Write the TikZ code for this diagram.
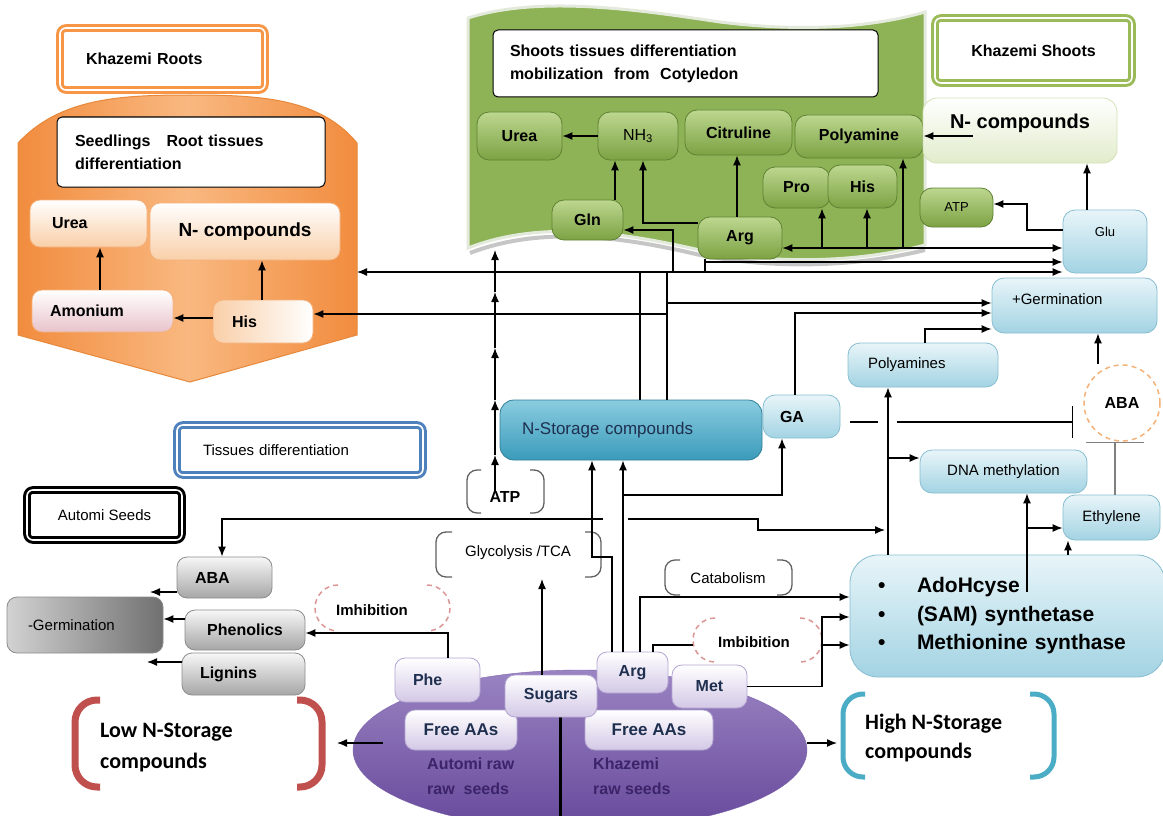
\documentclass[tikz,border=0pt]{standalone}
\usepackage{fontspec}
\setmainfont{Liberation Sans}
\newfontfamily\carl{Carlito}
\usetikzlibrary{arrows.meta,shapes.geometric,calc}
\definecolor{orD}{HTML}{F18C3E}
\definecolor{orL}{HTML}{F9B880}
\definecolor{orB}{HTML}{E8883A}
\definecolor{orK}{HTML}{F79646}
\definecolor{orN}{HTML}{F9CFA8}
\definecolor{orE}{HTML}{F4B07A}
\definecolor{amB}{HTML}{E8C3CB}
\definecolor{grF}{HTML}{8DB356}
\definecolor{grE}{HTML}{E4EADB}
\definecolor{gnT}{HTML}{BDD78F}
\definecolor{gnB}{HTML}{7CA243}
\definecolor{gnD}{HTML}{5F8232}
\definecolor{shG}{HTML}{9BBB59}
\definecolor{snB}{HTML}{E2ECCB}
\definecolor{snD}{HTML}{D3E2B8}
\definecolor{blT}{HTML}{E8F5F9}
\definecolor{blB}{HTML}{A3D3E3}
\definecolor{blD}{HTML}{86BDD0}
\definecolor{tlT}{HTML}{8ACCE0}
\definecolor{tlB}{HTML}{3A9BBA}
\definecolor{tlD}{HTML}{2F7F99}
\definecolor{gyT}{HTML}{F7F7F7}
\definecolor{gyB}{HTML}{A6A6A6}
\definecolor{gyD}{HTML}{8C8C8C}
\definecolor{gyL}{HTML}{D2D2D2}
\definecolor{gyK}{HTML}{707070}
\definecolor{puT}{HTML}{9A84C2}
\definecolor{puB}{HTML}{67489B}
\definecolor{puD}{HTML}{7D66AD}
\definecolor{plB}{HTML}{D3C8E6}
\definecolor{plD}{HTML}{B4A5D2}
\definecolor{redB}{HTML}{C0504D}
\definecolor{tealB}{HTML}{4BACC6}
\definecolor{pinkD}{HTML}{D99694}
\definecolor{orDash}{HTML}{F3B27A}
\definecolor{navy}{HTML}{1F2F4F}
\definecolor{purT}{HTML}{3B2468}
\definecolor{tisB}{HTML}{4F81BD}
\definecolor{brkC}{HTML}{606060}
\tikzset{
  sz/.style 2 args={minimum width=#1pt,minimum height=#2pt},
  box/.style={rounded corners=10pt,inner sep=0pt,align=center,line width=0.8pt},
  fb/.style={font=\fontsize{16}{20}\selectfont\bfseries},
  fr/.style={font=\fontsize{15}{18}\selectfont},
  lft/.style={text width=#1pt,align=left},
  dbl/.style={rounded corners=6pt,inner sep=0pt,fill=white,line width=3pt,double=white,double distance=1.6pt},
  hdr/.style={rounded corners=5pt,inner sep=0pt,fill=white,draw=black,line width=1pt,font=\fontsize{16}{23}\selectfont\bfseries},
  onode/.style={box,fb,shade,top color=white,bottom color=orN,draw=orE},
  gnode/.style={box,fb,rounded corners=12pt,shade,top color=gnT,bottom color=gnB,draw=gnD,text=black},
  bnode/.style={box,fr,rounded corners=12pt,shade,top color=blT,bottom color=blB,draw=blD},
  ynode/.style={box,fb,shade,top color=gyT,bottom color=gyB,draw=gyD},
  pnode/.style={box,fb,shade,top color=white,bottom color=plB,draw=plD,text=navy},
  ln/.style={line width=1.3pt},
  arr/.style={ln,-{Latex[length=10pt,width=8pt]}},
  brk/.style={draw=brkC,line width=1.3pt,rounded corners=10pt},
  dsh/.style={line width=1.5pt,dash pattern=on 5pt off 4pt},
}
\begin{document}
\begin{tikzpicture}[x=1pt,y=-1pt]
\useasboundingbox (0,0) rectangle (1163,816);

% ---------- backgrounds ----------
\path[draw=orB,line width=1pt,left color=orD,right color=orD,middle color=orL]
  (18,143) .. controls (60,98) and (120,95) .. (190,95) .. controls (260,95) and (320,98) .. (357,143)
  -- (357,335) -- (190,382) -- (18,335) -- cycle;
\draw[gray!45,line width=4pt] (470,253) .. controls (540,226) and (620,236) .. (700,255) .. controls (780,270) and (860,266) .. (925,250);
\path[fill=grF,draw=grE,line width=3pt]
  (468,18) .. controls (540,-5) and (640,10) .. (720,22) .. controls (800,32) and (870,28) .. (925,12)
  -- (925,245) .. controls (860,262) and (780,265) .. (700,250) .. controls (620,232) and (540,220) .. (468,248) -- cycle;
\node[ellipse,inner sep=0pt,sz={454}{160},shade,top color=puT,bottom color=puB,draw=puD] (seeds) at (580,750) {};
\draw[line width=3pt] (560,717) -- (560,816);

% ---------- roots ----------
\node[dbl,draw=orK,sz={205}{62},fb,lft=153] (kroots) at (162.5,59) {Khazemi Roots};
\node[hdr,sz={268}{70},lft=232] (seedl) at (191,152) {Seedlings\quad Root tissues\\differentiation};
\node[onode,sz={117}{47},lft=73] (rurea) at (88.5,223.5) {Urea};
\node[onode,sz={190}{57},font=\fontsize{19}{23}\selectfont\bfseries] (rncomp) at (245,231.5) {N- compounds};
\node[box,fb,shade,top color=white,bottom color=amB,draw=orE,sz={141}{42},lft=105] (amon) at (102.5,311) {Amonium};
\node[box,fb,shade,left color=orN,right color=white,draw=orE,sz={100}{43},lft=62] (rhis) at (263,321.5) {His};

% ---------- shoots ----------
\node[hdr,sz={385}{67},lft=351] (shootsbox) at (685.5,63.5) {Shoots tissues differentiation\\mobilization\ \ from\ \ Cotyledon};
\node[gnode,sz={85}{48}] (gurea) at (519.5,136) {Urea};
\node[gnode,sz={80}{48},font=\fontsize{16}{20}\selectfont] (nh3) at (638,136) {NH\textsubscript{3}};
\node[gnode,sz={107}{45}] (citr) at (738.5,132.5) {Citruline};
\node[gnode,sz={128}{43}] (polya) at (859,136.5) {Polyamine};
\node[gnode,sz={67}{41}] (pro) at (796.5,187.5) {Pro};
\node[gnode,sz={69}{43}] (ghis) at (862.5,186.5) {His};
\node[gnode,sz={73}{39},font=\fontsize{13}{16}\selectfont] (gatp) at (956.5,207.5) {ATP};
\node[gnode,sz={71}{40}] (gln) at (587.5,220) {Gln};
\node[gnode,sz={84}{42}] (garg) at (740,238) {Arg};

\node[dbl,draw=shG,sz={197}{65},fb] (kshoots) at (1033.5,50.5) {Khazemi Shoots};
\node[box,rounded corners=14pt,shade,top color=white,bottom color=snB,draw=snD,sz={194}{65},font=\fontsize{20}{24}\selectfont\bfseries,text depth=18pt] (sncomp) at (1020,130.5) {N- compounds};
\node[bnode,sz={84}{63},font=\fontsize{13}{16}\selectfont,text depth=20pt] (glu) at (1105,241.5) {Glu};
\node[bnode,sz={165}{55},lft=125,text depth=13pt] (germp) at (1074.5,305.5) {+Germination};
\node[bnode,sz={150}{44},lft=110] (polyas) at (923,365) {Polyamines};
\node[circle,draw=orDash,dsh,inner sep=0pt,minimum size=76pt,fb] (abac) at (1122,403) {ABA};
\node[bnode,fb,sz={77}{43},lft=43] (ga) at (801.5,416.5) {GA};
\node[box,rounded corners=14pt,shade,top color=tlT,bottom color=tlB,draw=tlD,sz={262}{60},lft=218,font=\fontsize{17}{20}\selectfont,text=navy] (nstor) at (631,430) {N-Storage compounds};
\node[bnode,sz={167}{43}] (dnam) at (1003.5,471.5) {DNA methylation};
\node[bnode,sz={97}{45}] (ethyl) at (1111.5,517.5) {Ethylene};
\node[bnode,rounded corners=28pt,sz={315}{122},lft=259,font=\fontsize{21}{28.5}\selectfont\bfseries] (sam) at (1007.5,616)
  {\makebox[39pt][l]{\textbullet}AdoHcyse\\\makebox[39pt][l]{\textbullet}(SAM) synthetase\\\makebox[39pt][l]{\textbullet}Methionine synthase};

% ---------- left ----------
\node[dbl,draw=tisB,sz={246}{50},lft=194,fr] (tissues) at (300,450) {Tissues differentiation};
\node[dbl,draw=black,sz={155}{50},fr] (automi) at (104.5,515) {Automi Seeds};
\node[ynode,sz={95}{41},lft=59] (gaba) at (224.5,577.5) {ABA};
\node[ynode,sz={120}{40}] (phen) at (245,630) {Phenolics};
\node[ynode,sz={123}{42},lft=87] (lign) at (243.5,674) {Lignins};
\node[box,fr,shade,left color=gyL,right color=gyK,draw=gyD,sz={156}{56},lft=114] (mgerm) at (85,625) {-Germination};

% ---------- seeds ----------
\node[pnode,sz={112}{40},font=\fontsize{17}{20}\selectfont\bfseries] (faal) at (461,730) {Free AAs};
\node[pnode,sz={128}{40},font=\fontsize{17}{20}\selectfont\bfseries] (faar) at (649,730) {Free AAs};
\node[pnode,sz={92}{42}] (sugars) at (551,696) {Sugars};
\node[pnode,sz={85}{44},lft=49] (phe) at (437.5,680) {Phe};
\node[pnode,sz={71}{41}] (earg) at (632.5,672.5) {Arg};
\node[pnode,sz={75}{43}] (met) at (709.5,686.5) {Met};
\node[anchor=west,inner sep=0pt,align=left,font=\fontsize{16}{25}\selectfont\bfseries,text=purT] (autlbl) at (427,776) {Automi raw\\raw\ \ seeds};
\node[anchor=west,inner sep=0pt,align=left,font=\fontsize{16}{25}\selectfont\bfseries,text=purT] (khlbl) at (593,776) {Khazemi\\raw seeds};

% brackets
\draw[redB,line width=7pt,rounded corners=22pt] (100,700) -- (75,700) -- (75,787) -- (100,787);
\draw[redB,line width=7pt,rounded corners=22pt] (297,700) -- (322,700) -- (322,787) -- (297,787);
\node[anchor=west,inner sep=0pt,align=left,font=\carl\fontsize{22}{31}\selectfont\bfseries] (lowt) at (100,748) {Low N-Storage\\compounds};
\draw[tealB,line width=5pt,rounded corners=20pt] (865,694) -- (843,694) -- (843,777) -- (865,777);
\draw[tealB,line width=5pt,rounded corners=20pt] (1030,694) -- (1054,694) -- (1054,777) -- (1030,777);
\node[anchor=west,inner sep=0pt,align=left,font=\carl\fontsize{22}{29}\selectfont\bfseries] (hight) at (865,738) {High N-Storage\\compounds};

\draw[brk] (481,470) -- (467,470) -- (467,513) -- (481,513);
\draw[brk] (530,470) -- (544,470) -- (544,513) -- (530,513);
\node[fb,inner sep=0pt] (atpt) at (505,497) {ATP};
\draw[brk] (452,532) -- (436,532) -- (436,577) -- (452,577);
\draw[brk] (585,532) -- (601,532) -- (601,577) -- (585,577);
\node[fr,inner sep=0pt] (glyt) at (518,553) {Glycolysis /TCA};
\draw[brk] (680,560) -- (665,560) -- (665,595) -- (680,595);
\draw[brk] (777,560) -- (792,560) -- (792,595) -- (777,595);
\node[fr,inner sep=0pt] (catt) at (728,578) {Catabolism};

\draw[pinkD,dsh] (338,585) arc[start angle=270,end angle=90,radius=23];
\draw[pinkD,dsh] (427,585) arc[start angle=270,end angle=450,radius=23];
\node[inner sep=0pt,font=\fontsize{15}{18}\selectfont\bfseries] (imht) at (372,610) {Imhibition};
\draw[pinkD,dsh] (715,618) arc[start angle=270,end angle=90,radius=22];
\draw[pinkD,dsh] (800,618) arc[start angle=270,end angle=450,radius=22];
\node[inner sep=0pt,font=\fontsize{15}{18}\selectfont\bfseries] (imbt) at (754,642) {Imbibition};

% ---------- coordinates ----------
\coordinate (rootR) at (357,272);
\coordinate (j640) at (640,272);
\coordinate (j667t) at (667,272);
\coordinate (j667a) at (667,303);
\coordinate (j667b) at (667,314);
\coordinate (jGln) at (673,272);
\coordinate (jArg) at (705,262);
\coordinate (jP) at (822,248);
\coordinate (jH) at (867,248);
\coordinate (jY) at (903,248);
\coordinate (gaA) at (850,422);
\coordinate (gaB) at (878,422);
\coordinate (gaC) at (897,422);
\coordinate (abaBar) at (1073,422);
\coordinate (jDNA) at (888,458);
\coordinate (samA) at (1027,592);
\coordinate (jEth) at (1027,528);
\coordinate (jMet) at (822,645);
\coordinate (imbL) at (693,645);
\coordinate (jGA) at (623,495);
\coordinate (glyB) at (542,579);
\coordinate (h1) at (603,519);
\coordinate (h2) at (628,519);
\coordinate (h3) at (885,530);
\coordinate (mg1) at (150,592);
\coordinate (mg3) at (147,662);
\coordinate (a1) at (495,455);
\coordinate (a2) at (495,400);
\coordinate (a3) at (495,348);
\coordinate (a4) at (495,292);
\coordinate (gB) at (495,250);
\coordinate (lowR) at (337,743);
\coordinate (highL) at (837,743);

% ---------- connectors ----------
\draw[arr] (amon.north-|100,0) -- (rurea.south-|100,0);
\draw[arr] (rhis.north-|262,0) -- (rncomp.south-|262,0);
\draw[arr] (rhis.west|-0,318) -- (amon.east|-0,318);

\draw[arr] (nh3) -- (gurea);
\draw[arr] (gln.north-|615,0) -- (nh3.south-|615,0);
\draw[arr] (garg.west|-0,223) -| (nh3.south-|643,0);
\draw[arr] (garg.north-|737,0) -- (citr.south-|737,0);
\draw[arr] (jGln) |- (gln.east|-0,230);
\draw[ln,{Latex[length=10pt,width=8pt]}-{Latex[length=10pt,width=8pt]}] (garg.east|-0,248) -- (glu.west|-0,248);
\draw[arr] (jP) -- (pro.south-|822,0);
\draw[arr] (jH) -- (ghis.south-|867,0);
\draw[arr] (jY) -- (polya.south-|903,0);
\draw[arr] (glu.north-|1087,0) -- (sncomp.south-|1087,0);
\draw[arr] (glu.west|-0,230) -- (1027,230) |- (gatp.east|-0,204);
\draw[arr] ($(sncomp.west)+(50,5.5)$) -- (polya.east|-0,136);

\draw[ln] (nstor.north-|640,0) -- (j640);
\draw[arr] (j640) -- (rootR);
\draw[arr] (j640) -- (glu.west|-0,272);
\draw[ln] (garg.south-|705,0) -- (705,272);
\draw[arr] (jArg) -- (glu.west|-0,262);
\draw[ln] (nstor.north-|667,0) -- (j667t);
\draw[arr] (j667b) -- (rhis.east|-0,314);
\draw[arr] (j667a) -- (germp.west|-0,303);
\draw[arr] (ga.north-|795,0) |- (germp.west|-0,313);
\draw[arr] (polyas.north-|925,0) |- (germp.west|-0,329);
\draw[arr] (abac.north-|1098,0) -- (germp.south-|1098,0);

\draw[ln] (gaA) -- (gaB);
\draw[ln,-{Bar[width=32pt,line width=1.3pt]}] (gaC) -- (abaBar);
\draw[line width=1.3pt,draw=gray,-{Bar[width=58pt,line width=1.3pt]}] (ethyl.north-|1115,0) -- (abac.south-|1115,0);

\draw[arr] (sam.north-|888,0) -- (polyas.south-|888,0);
\draw[arr] (jDNA) -- (dnam.west|-0,458);
\draw[arr] (samA) -- (dnam.south-|1027,0);
\draw[arr] (jEth) -- (ethyl.west|-0,528);
\draw[arr] (sam.north-|1068,0) -- (ethyl.south-|1068,0);

\draw[arr] (met.east) -| (822,617) -- (sam.west|-0,617);
\draw[arr] (jMet) -- (sam.west|-0,645);
\draw[arr] (earg.north-|640,0) |- (sam.west|-0,597);
\draw[ln] (earg.north-|653,0) |- (imbL);
\draw[arr] (earg.north-|612,0) -- (612,557) -| (nstor.south-|592,0);
\draw[arr] (earg.north-|623,0) -- (nstor.south-|623,0);
\draw[arr] (jGA) -| (ga.south-|782,0);
\draw[arr] (sugars.north-|542,0) -- (glyB);
\draw[arr] (phe.north-|448,0) |- (phen.east|-0,633);

\draw[arr] (gaba.west|-0,592) -- (mg1);
\draw[arr] (phen.west|-0,619) -- (mgerm.east|-0,619);
\draw[arr] (lign.west|-0,662) -- (mg3);

\draw[arr] (h1) -| (gaba.north-|222,0);
\draw[arr] (h2) -- (758,519) |- (h3);

\draw[arr] (atpt.north-|495,0) -- (a1);
\draw[arr] (a1) -- (a2);
\draw[arr] (a2) -- (a3);
\draw[arr] (a3) -- (a4);
\draw[arr] (a4) -- (gB);

\draw[arr] ($(seeds.west)+(30,-7)$) -- (lowR);
\draw[arr] (seeds.east|-0,743) -- (highL);
\end{tikzpicture}
\end{document}
